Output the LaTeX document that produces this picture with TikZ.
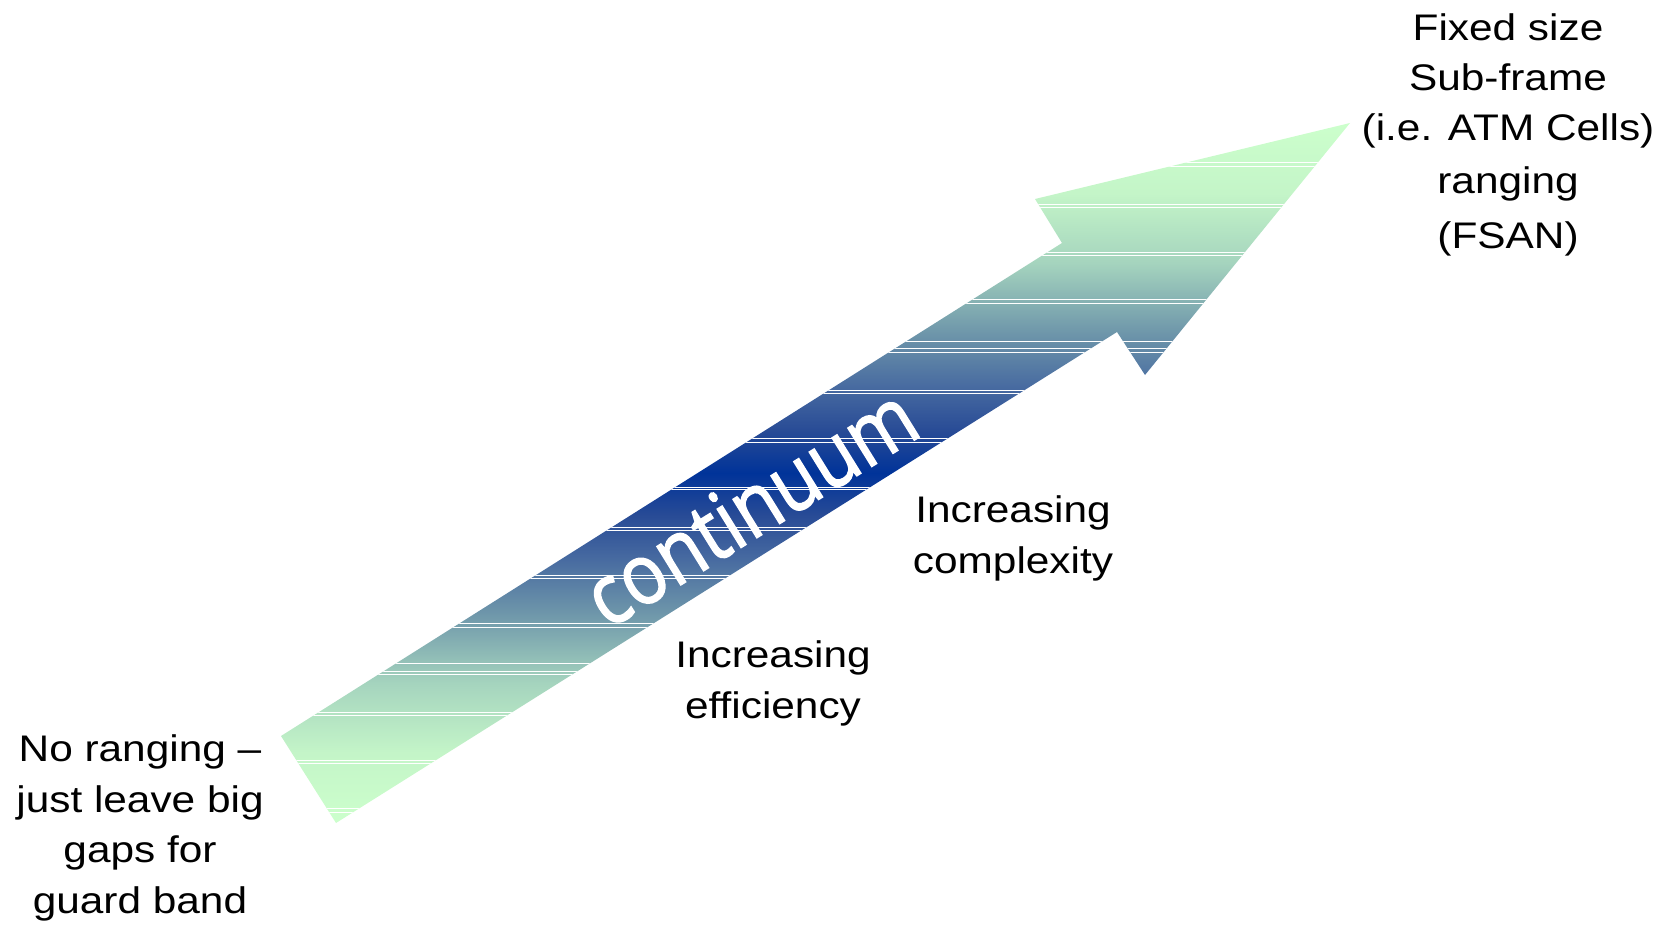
\documentclass[tikz,border=0pt]{standalone}
\usepackage{fontspec}
\setmainfont{Liberation Sans}[FakeStretch=1.145]
\newfontfamily\contfont{Open Sans}[FakeBold=1.8]
\usepackage{graphicx}
\definecolor{lgreen}{RGB}{204,255,204}
\definecolor{dblue}{RGB}{0,51,153}
\definecolor{gA}{RGB}{40,75,150}
\definecolor{gB}{RGB}{70,105,160}
\definecolor{gC}{RGB}{110,150,170}
\definecolor{gD}{RGB}{165,212,190}
\definecolor{gE}{RGB}{196,245,200}
\pgfdeclareverticalshading{arrowshade}{100bp}{color(0bp)=(lgreen); color(25bp)=(lgreen);
  color(30bp)=(gE); color(35bp)=(gD); color(40bp)=(gC); color(44bp)=(gB); color(47bp)=(gA);
  color(50bp)=(dblue);
  color(53bp)=(gA); color(56bp)=(gB); color(60bp)=(gC); color(65bp)=(gD); color(70bp)=(gE);
  color(75bp)=(lgreen); color(100bp)=(lgreen)}
\begin{document}
\begin{tikzpicture}[x=1pt,y=-1pt,
  lbl/.style={align=center, font=\fontsize{37}{51}\selectfont, inner sep=0pt, text=black},
  band/.style={white, line width=1pt}]
\useasboundingbox (0,0) rectangle (1668,925);
\coordinate (A) at (281,736);
\coordinate (B) at (1062,243);
\coordinate (C) at (1035,199);
\coordinate (D) at (1350,123);
\coordinate (E) at (1145,375);
\coordinate (F) at (1117,332);
\coordinate (G) at (336,823);
\path[shading=arrowshade]
  (A) -- (B) -- (C) -- (D) -- (E) -- (F) -- (G) -- cycle;
\begin{scope}
  \clip (A) -- (B) -- (C) -- (D) -- (E) -- (F) -- (G) -- cycle;
  \foreach \yy in {163,167,205,208,253,256,300,304,341,348,352,390,393,438,442,487,489,527,530,575,578,623,627,663,671,674,712,715,760,763,808,812}
    \draw[band] (250,\yy) -- (1400,\yy);
\end{scope}
\node[text=white, rotate=31.8, inner sep=0pt] (cont) at (750,506)
  {\resizebox{372pt}{62pt}{\contfont continuum}};
\node[lbl, font=\fontsize{37}{50}\selectfont] (fsan) at (1508,135) {Fixed size\\Sub-frame\\(i.e. ATM Cells)\\[3pt]ranging\\[5pt](FSAN)};
\node[lbl, font=\fontsize{37}{50.5}\selectfont] (none) at (140,828) {No ranging --\\just leave big\\gaps for\\guard band};
\node[lbl] (cplx) at (1013,538) {Increasing\\complexity};
\node[lbl] (effi) at (773,683) {Increasing\\efficiency};
\end{tikzpicture}
\end{document}
